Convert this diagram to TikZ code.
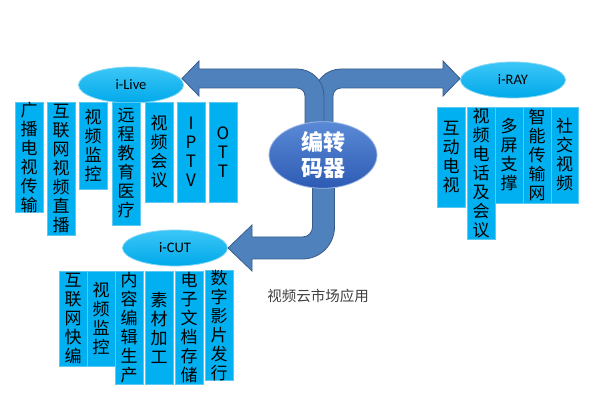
\documentclass[tikz,border=0pt]{standalone}
\usepackage{fontspec}
\setmainfont{Carlito}
\newfontfamily\cjk{Noto Sans CJK SC}
\usetikzlibrary{shapes.geometric}
\definecolor{boxfill}{HTML}{00B0F0}
\definecolor{boxline}{HTML}{5CC9F3}
\definecolor{arrfill}{HTML}{4F81BD}
\definecolor{arrline}{HTML}{385D8A}
\definecolor{elltop}{HTML}{3CC6F7}
\definecolor{ellbot}{HTML}{00A9EA}
\definecolor{ellline}{HTML}{7FD6F5}
\definecolor{enctop}{HTML}{5A8AD6}
\definecolor{encbot}{HTML}{2D5BB4}
\definecolor{encline}{HTML}{9DB8E6}
\definecolor{labelgray}{HTML}{404040}
\tikzset{
  vbox/.style={rectangle, fill=boxfill, draw=boxline, line width=0.8pt,
    inner sep=0pt, outer sep=0pt, anchor=north west, align=center,
    font=\cjk\fontsize{17}{19}\selectfont},
  appell/.style={ellipse, draw=ellline, line width=0.8pt, top color=elltop,
    bottom color=ellbot, inner sep=0pt, minimum width=105pt, minimum height=36pt,
    font=\fontsize{14.5}{16}\selectfont},
  encell/.style={ellipse, draw=encline, line width=0.8pt, top color=enctop,
    bottom color=encbot, inner sep=0pt, minimum width=108pt, minimum height=54pt,
    text=white, align=center, font=\cjk\bfseries\fontsize{22}{26}\selectfont},
  blockarrow/.style={fill=arrfill, draw=arrline, line width=0.8pt, line join=miter},
}
\begin{document}
\begin{tikzpicture}[x=1pt, y=-1pt]
\fill[white] (0,0) rectangle (591,419);
\useasboundingbox (0,0) rectangle (591,419);

% block arrows
\draw[blockarrow] (460,78.5) -- (443,61) -- (443,69) -- (341,69)
  .. controls (326.1,69) and (314,81.1) .. (314,96) -- (314,170) -- (333,170) -- (333,96)
  .. controls (333,91.6) and (336.6,88) .. (341,88) -- (443,88) -- (443,96) -- cycle;
\draw[blockarrow] (182,78.5) -- (199,61) -- (199,69) -- (297,69)
  .. controls (311.9,69) and (324,81.1) .. (324,96) -- (324,170) -- (305,170) -- (305,96)
  .. controls (305,91.6) and (301.4,88) .. (297,88) -- (199,88) -- (199,96) -- cycle;
\draw[blockarrow] (228,248) -- (252,225) -- (252,237) -- (302.5,237)
  .. controls (308,237) and (312.5,232.5) .. (312.5,227) -- (312.5,150) -- (334.5,150) -- (334.5,227)
  .. controls (334.5,244.7) and (320.2,259) .. (302.5,259) -- (252,259) -- (252,271) -- cycle;

% encoder
\node[encell] (enc) at (323,155) {编转\\码器};

% application ellipses
\node[appell] (live) at (131,85) {i-Live};
\node[appell] (ray) at (513,80) {i-RAY};
\node[appell] (cut) at (175,248) {i-CUT};

% i-Live boxes
\node[vbox, minimum width=28pt, minimum height=110pt] (l1) at (15,102) {广\\播\\电\\视\\传\\输};
\node[vbox, minimum width=28pt, minimum height=133pt] (l2) at (47,102) {互\\联\\网\\视\\频\\直\\播};
\node[vbox, minimum width=28pt, minimum height=87pt] (l3) at (79,102) {视\\频\\监\\控};
\node[vbox, minimum width=28pt, minimum height=123pt] (l4) at (112,102) {远\\程\\教\\育\\医\\疗};
\node[vbox, minimum width=28pt, minimum height=100pt] (l5) at (145,102) {视\\频\\会\\议};
\node[vbox, minimum width=28pt, minimum height=100pt] (l6) at (177,102) {I\\P\\T\\V};
\node[vbox, minimum width=28pt, minimum height=100pt] (l7) at (209,102) {O\\T\\T};

% i-RAY boxes
\node[vbox, minimum width=28pt, minimum height=100pt] (r1) at (437,107) {互\\动\\电\\视};
\node[vbox, minimum width=28pt, minimum height=132pt] (r2) at (467,107) {视\\频\\电\\话\\及\\会\\议};
\node[vbox, minimum width=28pt, minimum height=96pt] (r3) at (495,107) {多\\屏\\支\\撑};
\node[vbox, minimum width=28pt, minimum height=96pt] (r4) at (523,107) {智\\能\\传\\输\\网};
\node[vbox, minimum width=27pt, minimum height=96pt] (r5) at (551,107) {社\\交\\视\\频};

% i-CUT boxes
\node[vbox, minimum width=28pt, minimum height=95pt] (c1) at (59,271) {互\\联\\网\\快\\编};
\node[vbox, minimum width=28pt, minimum height=95pt] (c2) at (87,271) {视\\频\\监\\控};
\node[vbox, minimum width=28pt, minimum height=113pt] (c3) at (115,271) {内\\容\\编\\辑\\生\\产};
\node[vbox, minimum width=28pt, minimum height=113pt] (c4) at (145,271) {素\\材\\加\\工};
\node[vbox, minimum width=28pt, minimum height=113pt] (c5) at (175,271) {电\\子\\文\\档\\存\\储};
\node[vbox, minimum width=28pt, minimum height=110pt] (c6) at (205,270) {数\\字\\影\\片\\发\\行};

% caption
\node[font=\cjk\fontsize{14.5}{16}\selectfont, text=labelgray] (cap) at (318,296) {视频云市场应用};
\end{tikzpicture}
\end{document}
